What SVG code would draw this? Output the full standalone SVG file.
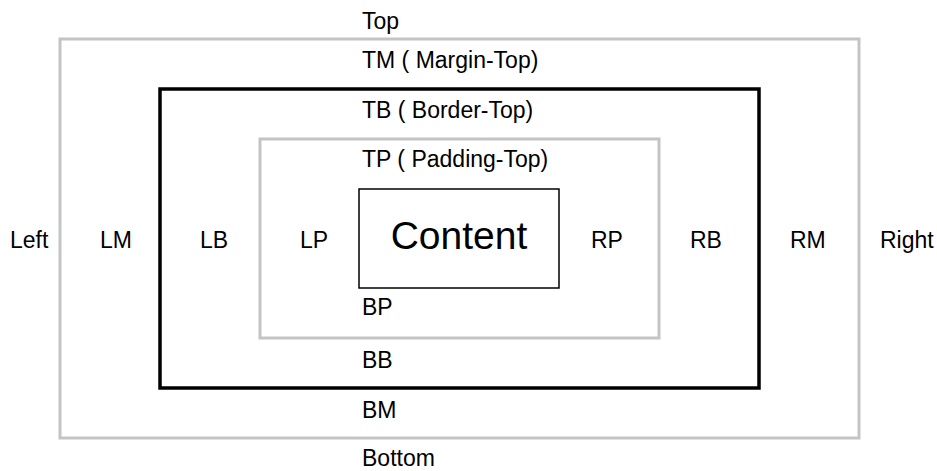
<svg xmlns="http://www.w3.org/2000/svg" width="937" height="471" viewBox="0 0 937 471">
  <style>
    .lbl { font-family: "Liberation Sans", Arial, sans-serif; font-size: 23px; fill: #000; }
    .big { font-family: "Liberation Sans", Arial, sans-serif; font-size: 39px; fill: #000; }
    .grey { fill: none; stroke: #c4c4c4; stroke-width: 3; }
    .black { fill: none; stroke: #000; stroke-width: 3.5; }
    .thin { fill: none; stroke: #000; stroke-width: 1.5; }
  </style>
  <rect width="937" height="471" fill="#fff"/>
  <g id="margin">
    <rect class="grey" x="60" y="39" width="799" height="399"/>
    <text class="lbl" x="362" y="29">Top</text>
    <text class="lbl" x="362" y="68">TM ( Margin-Top)</text>
    <text class="lbl" x="10" y="248">Left</text>
    <text class="lbl" x="100" y="248">LM</text>
    <text class="lbl" x="790" y="248">RM</text>
    <text class="lbl" x="880" y="248">Right</text>
    <text class="lbl" x="362" y="418">BM</text>
    <text class="lbl" x="362" y="466">Bottom</text>
  </g>
  <g id="border">
    <rect class="black" x="160" y="89" width="599" height="299"/>
    <text class="lbl" x="362" y="118">TB ( Border-Top)</text>
    <text class="lbl" x="200" y="248">LB</text>
    <text class="lbl" x="690" y="248">RB</text>
    <text class="lbl" x="362" y="368">BB</text>
  </g>
  <g id="padding">
    <rect class="grey" x="260" y="139" width="399" height="199"/>
    <text class="lbl" x="362" y="167">TP ( Padding-Top)</text>
    <text class="lbl" x="300" y="248">LP</text>
    <text class="lbl" x="591" y="248">RP</text>
    <text class="lbl" x="362" y="315">BP</text>
  </g>
  <g id="content">
    <rect class="thin" x="359" y="189" width="200" height="99"/>
    <text class="big" x="459" y="249" text-anchor="middle">Content</text>
  </g>
  <g id="connectors"/>
</svg>
